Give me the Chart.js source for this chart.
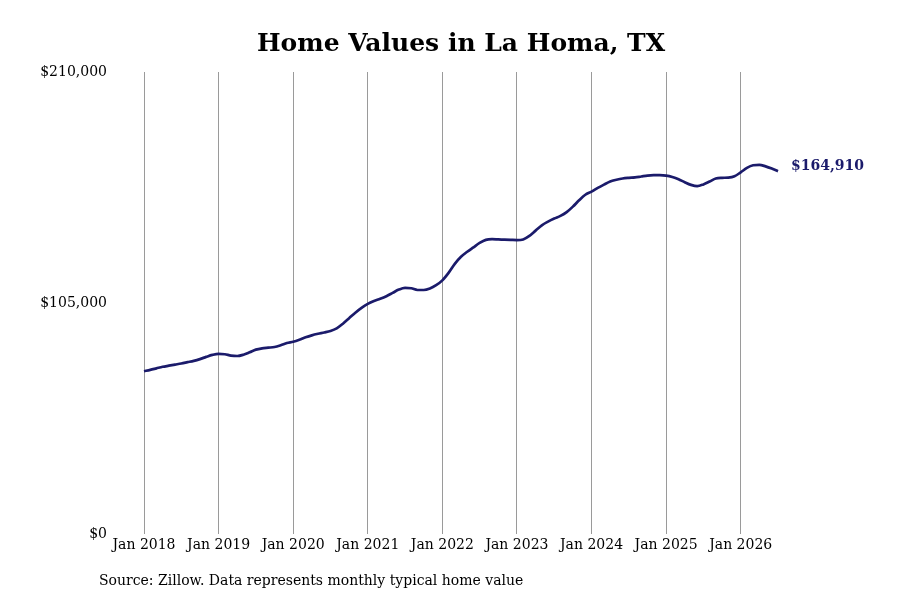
<!DOCTYPE html>
<html>
<head>
<meta charset="utf-8">
<title>Home Values in La Homa, TX</title>
<script src="https://cdn.jsdelivr.net/npm/chart.js@4/dist/chart.umd.min.js"></script>
<style>
    html, body { margin: 0; padding: 0; background: #fff; }
    #wrap { width: 900px; height: 600px; }
</style>
</head>
<body>
<div id="wrap"><canvas id="homeChart" width="900" height="600"></canvas></div>
<script>
// Monthly typical home value, Jan 2018 -> Jul 2026
const START_YEAR = 2018;
const MONTH_NAMES = ['Jan', 'Feb', 'Mar', 'Apr', 'May', 'Jun', 'Jul', 'Aug', 'Sep', 'Oct', 'Nov', 'Dec'];

const homeValues = [
    74000, 74600, 75300, 76000, 76500, 77000, 77500, 78100, 78700, 79500, 80500, 81400,      // 2018
    81900, 81700, 81100, 80900, 81500, 82600, 83800, 84400, 84700, 85000, 85800, 86800,      // 2019
    87400, 88300, 89400, 90300, 91000, 91600, 92300, 93500, 95600, 98100, 100600, 102800,    // 2020
    104600, 105900, 106900, 108100, 109600, 111100, 111900, 111700, 110900, 110900, 111600, 113100, // 2021
    115300, 118700, 122800, 126000, 128300, 130300, 132300, 133700, 134000, 133900, 133800, 133700, // 2022
    133600, 133900, 135500, 137900, 140300, 142000, 143400, 144600, 146300, 148800, 151700, 154200, // 2023
    155600, 157300, 158800, 160200, 161000, 161600, 161900, 162100, 162500, 162900, 163100, 163100, // 2024
    162900, 162300, 161300, 159900, 158700, 158100, 158900, 160200, 161600, 161900, 162000, 162600, // 2025
    164400, 166400, 167600, 167800, 167100, 166100, 164910                                   // 2026
];

const monthLabels = homeValues.map((_, i) => `${MONTH_NAMES[i % 12]} ${START_YEAR + Math.floor(i / 12)}`);
const yTicks = [0, 105000, 210000];

const LINE_COLOR = '#1b1b6b';
const FONT = "'DejaVu Serif', serif";

// last value label to the right of the line
const endLabelPlugin = {
    id: 'endLabel',
    afterDatasetsDraw(chart) {
        const meta = chart.getDatasetMeta(0);
        const pt = meta.data[meta.data.length - 1];
        const val = homeValues[homeValues.length - 1];
        const ctx = chart.ctx;
        ctx.save();
        ctx.font = `bold 14px ${FONT}`;
        ctx.fillStyle = LINE_COLOR;
        ctx.textAlign = 'left';
        ctx.textBaseline = 'middle';
        ctx.fillText('$' + val.toLocaleString('en-US'), pt.x + 13, pt.y - 5);
        ctx.restore();
    }
};

// source note at the bottom
const sourcePlugin = {
    id: 'sourceNote',
    afterDraw(chart) {
        const ctx = chart.ctx;
        ctx.save();
        ctx.font = `14px ${FONT}`;
        ctx.fillStyle = '#000';
        ctx.textAlign = 'left';
        ctx.textBaseline = 'middle';
        ctx.fillText('Source: Zillow. Data represents monthly typical home value', 99, 581);
        ctx.restore();
    }
};

new Chart(document.getElementById('homeChart'), {
    type: 'line',
    data: {
        labels: monthLabels,
        datasets: [{
            label: 'Home value',
            data: homeValues,
            borderColor: LINE_COLOR,
            borderWidth: 2.7,
            pointRadius: 0,
            fill: false,
            tension: 0.4,
            cubicInterpolationMode: 'monotone'
        }]
    },
    options: {
        responsive: false,
        animation: false,
        layout: { padding: { top: 0, right: 122, bottom: 0, left: 0 } },
        plugins: {
            legend: { display: false },
            tooltip: { enabled: false },
            title: {
                display: true,
                text: 'Home Values in La Homa, TX',
                color: '#000',
                fullSize: false,
                font: { family: FONT, size: 25, weight: 'bold' },
                padding: { top: 29, bottom: 13 }
            }
        },
        scales: {
            x: {
                border: { display: false },
                grid: { drawTicks: false, color: '#9a9a9a', lineWidth: 1 },
                // keep only the January ticks
                afterBuildTicks: s => { s.ticks = s.ticks.filter(t => t.value % 12 === 0); },
                ticks: {
                    autoSkip: false,
                    maxRotation: 0,
                    padding: 3,
                    color: '#000',
                    font: { family: FONT, size: 14 },
                    callback: v => monthLabels[v]
                },
                afterFit: s => { s.height = 66; }
            },
            y: {
                min: 0,
                max: 210000,
                border: { display: false },
                grid: { display: false, drawTicks: false },
                afterBuildTicks: s => { s.ticks = yTicks.map(v => ({ value: v })); },
                ticks: {
                    padding: 37,
                    color: '#000',
                    font: { family: FONT, size: 14 },
                    callback: v => '$' + Number(v).toLocaleString('en-US')
                },
                afterFit: s => { s.width = 144; }
            }
        }
    },
    plugins: [endLabelPlugin, sourcePlugin]
});
</script>
</body>
</html>
